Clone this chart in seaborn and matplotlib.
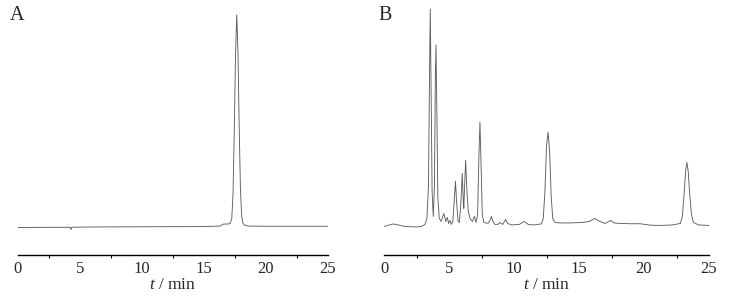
import seaborn as sns
import matplotlib.pyplot as plt
from matplotlib.ticker import MultipleLocator

# Chromatogram A (standard): time in min, detector signal in arbitrary units
time_a = [0, 2.0, 4.2, 4.27, 4.33, 6.0, 10.0, 15.0, 16.3, 16.56, 16.9,
          17.1, 17.24, 17.34, 17.44, 17.54, 17.64, 17.74, 17.84, 17.94,
          18.04, 18.15, 18.35, 18.6, 20.0, 25.0]
signal_a = [0, 0.2, 0.3, -2.0, 0.3, 0.6, 0.8, 1.0, 1.5, 3.5, 3.5,
            4, 9, 34, 95, 172, 213, 176, 100, 38,
            11, 4, 2, 1.5, 1.3, 1.3]

# Chromatogram B (sample)
time_b = [0, 0.4, 0.72, 1.1, 1.6, 2.5, 2.9, 3.15, 3.3, 3.42, 3.5, 3.56, 3.62,
          3.7, 3.79, 3.88, 3.95, 4.0, 4.06, 4.14, 4.25, 4.4, 4.6, 4.75, 4.87,
          4.97, 5.08, 5.18, 5.3, 5.42, 5.5, 5.58, 5.7, 5.8, 5.92, 6.02, 6.1,
          6.14, 6.2, 6.28, 6.36, 6.48, 6.62, 6.8, 6.95, 7.08, 7.2, 7.3, 7.38,
          7.46, 7.56, 7.68, 8.0, 8.15, 8.26, 8.38, 8.54, 8.75, 8.92, 9.13,
          9.36, 9.5, 9.82, 10.4, 10.77, 11.1, 11.5, 12.1, 12.25, 12.38, 12.5,
          12.62, 12.74, 12.86, 12.98, 13.15, 13.5, 14.3, 15.3, 15.8, 16.2,
          16.6, 17.0, 17.44, 17.7, 18.15, 19.0, 19.7, 20.5, 21.2, 22.2, 22.6,
          22.8, 22.95, 23.1, 23.2, 23.3, 23.4, 23.5, 23.65, 23.8, 24.2, 25.0]
signal_b = [0, 1.5, 2.5, 1.5, 0, -0.5, 0, 2, 8, 40, 150, 217, 140,
            35, 10, 40, 150, 181, 120, 30, 8, 5, 13, 5, 9,
            3, 6, 2, 5, 30, 45, 25, 5, 4, 25, 53, 25,
            18, 40, 66, 40, 15, 8, 5, 10, 4, 12, 70, 104,
            65, 12, 4, 3, 6, 10, 5, 2, 2, 4, 2,
            7, 3, 1.5, 2, 5, 2, 1.5, 2.5, 8, 35, 80,
            94, 75, 30, 8, 4, 3.5, 3.5, 4, 5, 8,
            5, 3, 6, 3.5, 3, 2.7, 2.7, 1.3, 1, 1.5, 2.5,
            3, 10, 35, 55, 64, 55, 35, 12, 4, 1.5, 1]

sns.set_style('white')
plt.rcParams['font.family'] = ['Liberation Serif', 'DejaVu Serif']
plt.rcParams['mathtext.fontset'] = 'custom'
plt.rcParams['mathtext.it'] = 'Liberation Serif:italic'
plt.rcParams['mathtext.rm'] = 'Liberation Serif'

W, H = 729, 299
fig = plt.figure(figsize=(W / 100, H / 100), dpi=100)

panels = [
    ('A', time_a, signal_a, 18, 328, (-27, 223), 10),
    ('B', time_b, signal_b, 384, 709, (-28, 221), 378),
]

for letter, t, s, x0, x1, ylim, lx in panels:
    ax = fig.add_axes([x0 / W, 1 - 254.5 / H, (x1 - x0) / W, 249.5 / H])
    sns.lineplot(x=t, y=s, ax=ax, color='#5e5e5e', linewidth=0.65,
                 estimator=None, sort=False)
    ax.set_xlim(0, 25)
    ax.set_ylim(*ylim)
    ax.set_facecolor('none')
    for side in ['top', 'left', 'right']:
        ax.spines[side].set_visible(False)
    ax.spines['bottom'].set_color('black')
    ax.spines['bottom'].set_linewidth(1.0)
    ax.set_yticks([])
    ax.xaxis.set_major_locator(MultipleLocator(5))
    ax.xaxis.set_minor_locator(MultipleLocator(2.5))
    ax.tick_params(axis='x', which='major', direction='out', length=3.5,
                   width=1.0, color='black', labelsize=12, pad=1.5)
    ax.tick_params(axis='x', which='minor', direction='out', length=2,
                   width=0.8, color='black', bottom=True)
    ax.set_xlabel('$t$ / min', fontsize=12.5, labelpad=0)
    ax.set_ylabel('')
    fig.text(lx / W, 1 - 16 / H, letter, fontsize=14.5, ha='left', va='center')

plt.savefig('out.png', dpi=100)
plt.close()
